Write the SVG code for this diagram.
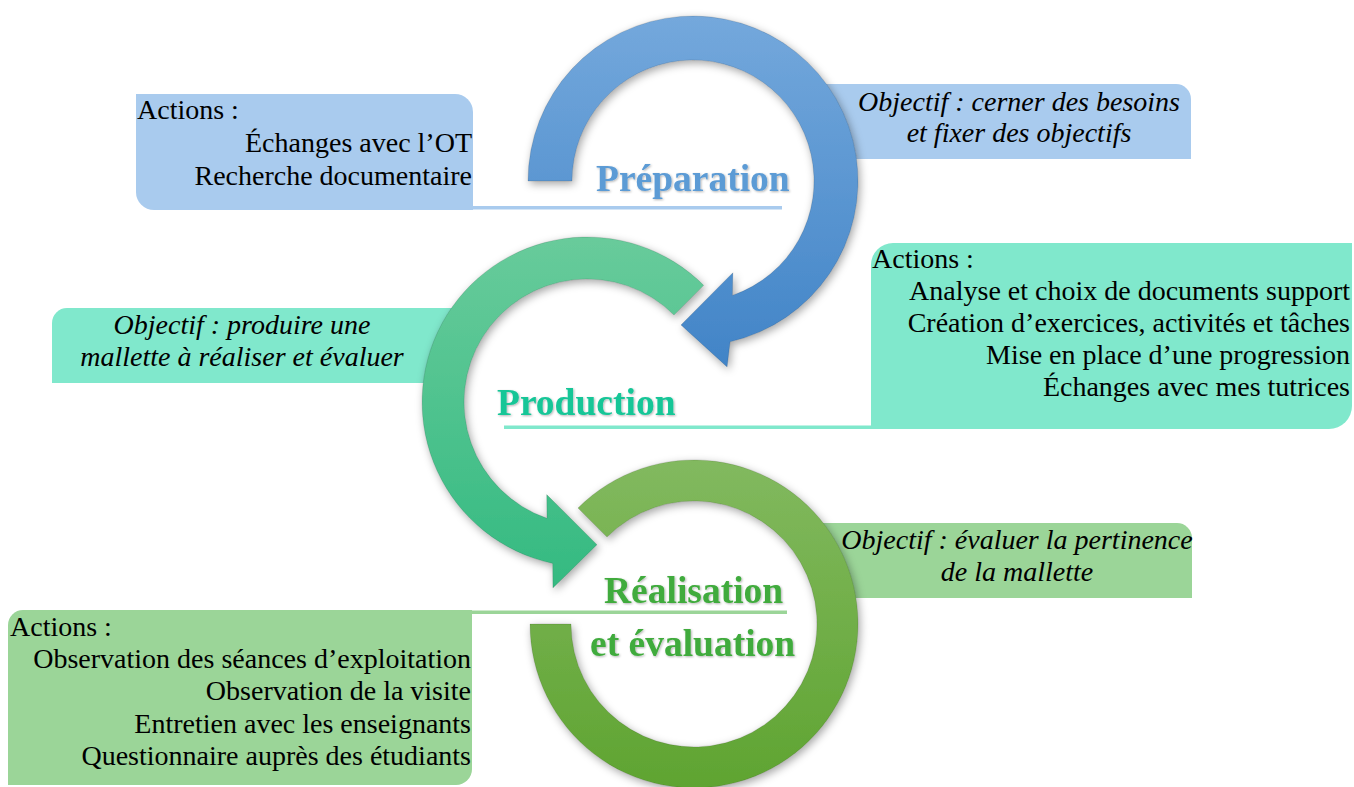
<svg xmlns="http://www.w3.org/2000/svg" width="1354" height="787" viewBox="0 0 1354 787">
  <defs>
    <linearGradient id="gBlue" x1="0" y1="0" x2="0" y2="1">
      <stop offset="0" stop-color="#74a8dc"/>
      <stop offset="1" stop-color="#4184c7"/>
    </linearGradient>
    <linearGradient id="gTeal" x1="0" y1="0" x2="0" y2="1">
      <stop offset="0" stop-color="#68cb9b"/>
      <stop offset="1" stop-color="#34ba81"/>
    </linearGradient>
    <linearGradient id="gGreen" x1="0" y1="0" x2="0" y2="1">
      <stop offset="0" stop-color="#82b95f"/>
      <stop offset="1" stop-color="#5fa431"/>
    </linearGradient>
    <filter id="ringShadow" x="-20%" y="-20%" width="140%" height="140%">
      <feDropShadow dx="2" dy="3" stdDeviation="4" flood-color="#000" flood-opacity="0.35"/>
    </filter>
    <filter id="txtShadow" x="-5%" y="-20%" width="110%" height="140%">
      <feDropShadow dx="1" dy="1" stdDeviation="0.8" flood-color="#000" flood-opacity="0.3"/>
    </filter>
  </defs>
  <style>
    .body { font-family: "Liberation Serif", "Times New Roman", serif; font-size: 28px; fill: #000; }
    .obj { font-family: "Liberation Serif", "Times New Roman", serif; font-size: 28px; font-style: italic; fill: #000; text-anchor: middle; }
    .end { text-anchor: end; }
    .title { font-family: "Liberation Serif", "Times New Roman", serif; font-size: 37.5px; font-weight: bold; filter: url(#txtShadow); }
    .blueBox { fill: #a9cbee; }
    .tealBox { fill: #80e8cc; }
    .greenBox { fill: #9bd598; }
    .ring { filter: url(#ringShadow); stroke: rgba(0,0,0,0.15); stroke-width: 0.8; }
  </style>
  <rect width="1354" height="787" fill="#ffffff"/>

  <!-- Boxes (behind rings) -->
  <g id="prep-actions">
    <path class="blueBox" d="M136,94 H455 A18,18 0 0 1 473,112 V210 H154 A18,18 0 0 1 136,192 Z"/>
    <rect class="blueBox" x="472" y="206" width="310" height="3.5"/>
    <text class="body" x="137" y="119">Actions :</text>
    <text class="body end" x="472" y="152">Échanges avec l’OT</text>
    <text class="body end" x="472" y="185">Recherche documentaire</text>
  </g>
  <g id="prep-objective">
    <path class="blueBox" d="M815,84 H1176 A15,15 0 0 1 1191,99 V159 H815 Z"/>
    <text class="obj" x="1019" y="111">Objectif : cerner des besoins</text>
    <text class="obj" x="1019" y="142">et fixer des objectifs</text>
  </g>
  <g id="prod-actions">
    <path class="tealBox" d="M893,243 H1352 V406 A23,23 0 0 1 1329,429 H871 V265 A22,22 0 0 1 893,243 Z"/>
    <rect class="tealBox" x="504" y="425.5" width="368" height="3.5"/>
    <text class="body" x="872" y="268">Actions :</text>
    <text class="body end" x="1350" y="300">Analyse et choix de documents support</text>
    <text class="body end" x="1350" y="332">Création d’exercices, activités et tâches</text>
    <text class="body end" x="1350" y="364">Mise en place d’une progression</text>
    <text class="body end" x="1350" y="396">Échanges avec mes tutrices</text>
  </g>
  <g id="prod-objective">
    <path class="tealBox" d="M67,308 H458 V383 H52 V323 A15,15 0 0 1 67,308 Z"/>
    <text class="obj" x="242" y="334">Objectif : produire une</text>
    <text class="obj" x="242" y="366">mallette à réaliser et évaluer</text>
  </g>
  <g id="real-objective">
    <path class="greenBox" d="M818,523 H1177 A15,15 0 0 1 1192,538 V598 H818 Z"/>
    <text class="obj" x="1017" y="549">Objectif : évaluer la pertinence</text>
    <text class="obj" x="1017" y="581">de la mallette</text>
  </g>
  <g id="real-actions">
    <path class="greenBox" d="M23,610 H472 V769 A16,16 0 0 1 456,785 H8 V625 A15,15 0 0 1 23,610 Z"/>
    <rect class="greenBox" x="471" y="610.5" width="316" height="3.5"/>
    <text class="body" x="10" y="636">Actions :</text>
    <text class="body end" x="471" y="668">Observation des séances d’exploitation</text>
    <text class="body end" x="471" y="700">Observation de la visite</text>
    <text class="body end" x="471" y="733">Entretien avec les enseignants</text>
    <text class="body end" x="471" y="765">Questionnaire auprès des étudiants</text>
  </g>

  <!-- Circular arrows -->
  <g id="connectors">
    <path id="arrow-prep" class="ring" fill="url(#gBlue)"
      d="M528,181 A165,165 0 1 1 730.1,341.8 L727.1,366.9 L681,325 L732.9,272.7 L732.4,295.4 A121,121 0 1 0 572,181 Z"/>
    <path id="arrow-prod" class="ring" fill="url(#gTeal)"
      d="M703.7,285.3 A165,165 0 1 0 552.7,563.4 L552.9,587.9 L597,544.7 L546.7,494.6 L547,518.3 A123,123 0 1 1 674,315 Z"/>
    <path id="arrow-real" class="ring" fill="url(#gGreen)"
      d="M578,508 A164,164 0 1 1 530,624 L571,624 A123,123 0 1 0 607,537 Z"/>
  </g>

  <!-- Stage titles -->
  <g id="title-prep">
    <text class="title" x="596" y="191" fill="#5b9bd5">Préparation</text>
  </g>
  <g id="title-prod">
    <text class="title" x="497" y="415" fill="#14c697">Production</text>
  </g>
  <g id="title-real">
    <text class="title" x="604" y="603" fill="#3fab3c">Réalisation</text>
    <text class="title" x="590" y="656" fill="#3fab3c">et évaluation</text>
  </g>
</svg>
